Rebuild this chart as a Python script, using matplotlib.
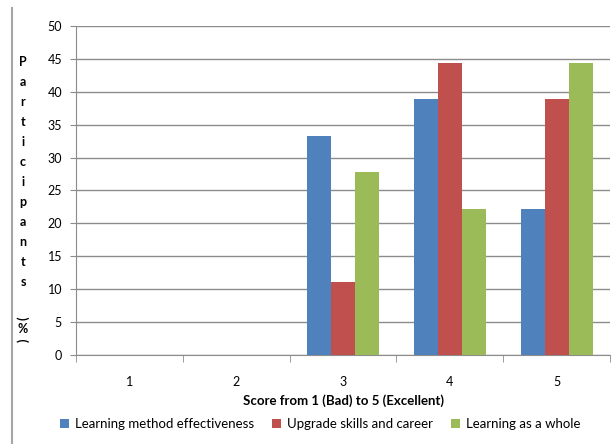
import numpy as np
import matplotlib.pyplot as plt
from matplotlib.patches import Patch

plt.rcParams['font.family'] = ['Lato', 'DejaVu Sans']

scores = ['1', '2', '3', '4', '5']
method_effectiveness = [0, 0, 33.3, 38.9, 22.2]
skills_and_career = [0, 0, 11.1, 44.4, 38.9]
learning_overall = [0, 0, 27.8, 22.2, 44.4]
series_names = ['Learning method effectiveness', 'Upgrade skills and career', 'Learning as a whole']
colors = ['#4F81BD', '#C0504D', '#9BBB59']

fig = plt.figure(figsize=(6.12, 4.44), dpi=100)
ax = fig.add_axes([0.124, 0.2005, 0.873, 0.741])

x = np.arange(len(scores))
w = 0.225
for i, (vals, c) in enumerate(zip([method_effectiveness, skills_and_career, learning_overall], colors)):
    ax.bar(x + (i - 1) * w, vals, width=w, color=c, zorder=3)

ax.set_xlim(-0.5, len(scores) - 0.5)
ax.set_ylim(0, 50)
ax.set_yticks(np.arange(0, 51, 5))
ax.yaxis.grid(True, color='#8c8c8c', linewidth=1.0, zorder=0)
ax.set_xticks(x)
ax.set_xticklabels(scores)
ax.set_xticks(np.arange(-0.5, len(scores), 1), minor=True)
ax.tick_params(axis='x', which='major', length=0, pad=15, labelsize=9)
ax.tick_params(axis='x', which='minor', length=5, color='#8c8c8c')
ax.tick_params(axis='y', length=4, color='#8c8c8c', labelsize=9, pad=6)

for s in ['top', 'right']:
    ax.spines[s].set_visible(False)
for s in ['left', 'bottom']:
    ax.spines[s].set_color('#8c8c8c')

ax.set_xlabel('Score from 1 (Bad) to 5 (Excellent)', fontsize=9.5, fontweight='bold', labelpad=5)

# stacked y-axis label, one character per line
ylabel = 'Participants'
for k, ch in enumerate(ylabel):
    fig.text(23 / 612, 1 - (62 + k * 20) / 444, ch, ha='center', va='center',
             fontsize=9, fontweight='bold')
for ch, ypx, rot in [('(', 318, 90), ('%', 329, 0), (')', 340, 90)]:
    fig.text(23 / 612, 1 - ypx / 444, ch, ha='center', va='center',
             fontsize=9, fontweight='bold', rotation=rot)

handles = [Patch(facecolor=c) for c in colors]
fig.legend(handles, series_names, loc='center', bbox_to_anchor=(0.523, 1 - 424 / 444),
           ncol=3, frameon=False, fontsize=9.5, handlelength=0.7, handleheight=0.7,
           handletextpad=0.4, columnspacing=1.4)

# thin border line at the left edge
fig.add_artist(plt.Line2D([12 / 612, 12 / 612], [0, 1 - 8 / 444], color='#a6a6a6',
                          linewidth=1.5, transform=fig.transFigure))

fig.savefig('out.png', dpi=100)
